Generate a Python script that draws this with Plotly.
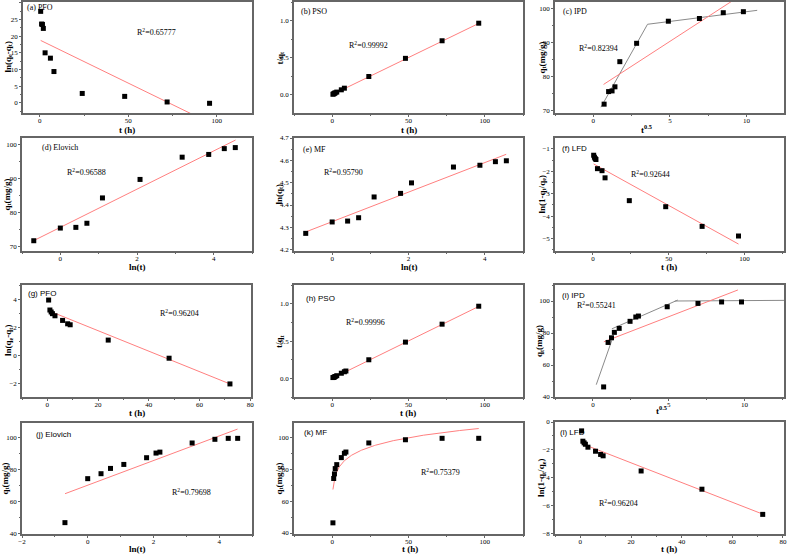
import numpy as np
import plotly.graph_objects as go

# ---------------- data ----------------
# (a) PFO
a_t = [0.5, 1, 1.5, 2, 3, 6, 8, 24, 48, 72, 96]
a_y = [27.4, 23.6, 23.5, 22.3, 15.0, 13.4, 9.4, 2.85, 1.97, 0.3, -0.1]
a_fit_x = [0.5, 96]
a_fit_y = [18.7, -5.9]
# (b) PSO
b_t = [0.5, 1, 1.5, 2, 3, 6, 8, 24, 48, 72, 96]
b_y = [0.007, 0.013, 0.020, 0.026, 0.036, 0.067, 0.089, 0.247, 0.493, 0.731, 0.969]
b_fit_x = [0.5, 96]
b_fit_y = [0.0065, 0.966]
# (c) IPD
c_x = [0.707, 1.0, 1.225, 1.414, 1.732, 2.828, 4.899, 6.928, 8.485, 9.798]
c_q = [71.8, 75.5, 75.7, 76.9, 84.3, 89.7, 96.2, 97.0, 98.7, 99.0]
c_seg_x = [0.5, 3.54, 10.7]
c_seg_y = [70.9, 95.3, 99.4]
c_fit_x = [0.67, 9.8]
c_fit_y = [77.6, 104.3]
# (d) Elovich
d_x = [-0.693, 0, 0.405, 0.693, 1.099, 2.079, 3.178, 3.871, 4.277, 4.564]
d_q = [71.8, 75.5, 75.7, 76.9, 84.3, 89.7, 96.2, 97.0, 98.7, 99.0]
d_fit_x = [-0.7, 4.57]
d_fit_y = [71.8, 101.2]
# (e) MF
e_x = [-0.693, 0, 0.405, 0.693, 1.099, 1.792, 2.079, 3.178, 3.871, 4.277, 4.564]
e_y = [4.273, 4.324, 4.328, 4.343, 4.436, 4.452, 4.499, 4.570, 4.578, 4.594, 4.598]
e_fit_x = [-0.7, 4.56]
e_fit_y = [4.279, 4.627]
# (f) LFD
f_t = [0.5, 1, 1.5, 2, 3, 6, 8, 24, 48, 72, 96]
f_y = [-1.28, -1.37, -1.43, -1.47, -1.88, -1.97, -2.29, -3.31, -3.58, -4.46, -4.89]
f_fit_x = [0.5, 96]
f_fit_y = [-1.67, -5.25]
# (g) PFO
g_t = [0.5, 1, 1.5, 2, 3, 6, 8, 9, 24, 48, 72]
g_y = [3.95, 3.24, 3.10, 2.98, 2.83, 2.50, 2.26, 2.19, 1.10, -0.19, -2.02]
g_fit_x = [0.5, 72]
g_fit_y = [3.19, -2.02]
# (h) PSO
h_t = [0.5, 1, 1.5, 2, 3, 6, 8, 9, 24, 48, 72, 96]
h_y = [0.011, 0.0135, 0.019, 0.025, 0.036, 0.069, 0.089, 0.099, 0.25, 0.487, 0.728, 0.969]
h_fit_x = [0.5, 96]
h_fit_y = [0.005, 0.966]
# (i) IPD
i_x = [0.707, 1.0, 1.225, 1.414, 1.732, 2.449, 2.828, 3.0, 4.899, 6.928, 8.485, 9.798]
i_q = [46.3, 74.1, 77.0, 80.4, 82.9, 87.3, 90.0, 90.6, 96.4, 98.5, 99.4, 99.4]
i_seg1_x = [0.22, 1.25]
i_seg1_y = [47.7, 75.5]
i_seg2_x = [1.25, 5.6]
i_seg2_y = [82.6, 100.6]
i_seg3_x = [5.4, 12.6]
i_seg3_y = [100.0, 100.4]
i_fit_x = [0.72, 9.56]
i_fit_y = [74.5, 106.9]
# (j) Elovich
j_x = [-0.693, 0, 0.405, 0.693, 1.099, 1.792, 2.079, 2.197, 3.178, 3.871, 4.277, 4.564]
j_q = [46.7, 74.2, 77.3, 80.6, 83.1, 87.3, 90.2, 90.8, 96.5, 98.8, 99.4, 99.4]
j_fit_x = [-0.69, 4.56]
j_fit_y = [64.8, 105.2]
# (k) MF
k_t = [0.5, 1, 1.5, 2, 3, 6, 8, 9, 24, 48, 72, 96]
k_q = [46.4, 74.2, 77.1, 80.4, 82.9, 87.3, 90.0, 90.8, 96.5, 98.5, 99.4, 99.4]
k_fit_a = 71.4
k_fit_b = 0.0856
# (l) LFD
l_t = [0.5, 1, 1.5, 2, 3, 6, 8, 9, 24, 48, 72]
l_y = [-0.64, -1.38, -1.50, -1.60, -1.81, -2.10, -2.33, -2.43, -3.52, -4.83, -6.64]
l_fit_x = [0.5, 72]
l_fit_y = [-1.55, -6.62]

k_curve_t = np.linspace(0.5, 96, 200)
k_curve_q = k_fit_a * k_curve_t ** k_fit_b

# ---------------- layout helpers ----------------
W, H = 787, 554
SERIF = "Liberation Serif"
SANS = "Liberation Sans"
RED = "#ff7f7f"
GRAY = "#8a8a8a"
AX = "#666666"

def px(x):
    return x / W

def py(y):
    return 1 - y / H

panels = [
    dict(box=(23, 2, 252, 113), xr=[-9.5, 120], yr=[-3, 30.2], xd=50, yd=5, yf="",
         title="(a) PFO", tf=SERIF, tp=(25, 8), r2="R<sup>2</sup>=0.65777", rp=(135, 32),
         xl="t (h)", xlp=(127, 130), yl="ln(q<sub>e</sub>-q<sub>t</sub>)", ylx=8),
    dict(box=(294, 2, 523, 113), xr=[-25, 125], yr=[-0.247, 1.256], xd=50, yd=0.5, yf=".1f",
         title="(b) PSO", tf=SERIF, tp=(299, 12), r2="R<sup>2</sup>=0.99992", rp=(347, 45),
         xl="t (h)", xlp=(409, 130), yl="t/q<sub>t</sub>", ylx=280),
    dict(box=(555, 2, 784, 113), xr=[-2.5, 12.45], yr=[69.2, 101.85], xd=5, yd=10, yf="",
         title="(c) IPD", tf=SERIF, tp=(561, 12), r2="R<sup>2</sup>=0.82394", rp=(577, 48),
         xl="t<sup>0.5</sup>", xlp=(646, 129), yl="q<sub>t</sub>(mg/g)", ylx=542),
    dict(box=(22, 138, 252, 251), xr=[-1, 5], yr=[68.8, 101.8], xd=2, yd=10, yf="",
         title="(d) Elovich", tf=SERIF, tp=(40, 147), r2="R<sup>2</sup>=0.96588", rp=(65, 172),
         xl="ln(t)", xlp=(137, 267), yl="q<sub>t</sub>(mg/g)", ylx=7),
    dict(box=(294, 138, 523, 251), xr=[-1, 5], yr=[4.194, 4.70], xd=2, yd=0.1, yf=".1f",
         title="(e) MF", tf=SERIF, tp=(301, 149), r2="R<sup>2</sup>=0.95790", rp=(322, 172),
         xl="ln(t)", xlp=(409, 267), yl="ln(q<sub>t</sub>)", ylx=279),
    dict(box=(555, 138, 784, 251), xr=[-25, 126], yr=[-5.56, -0.51], xd=50, yd=1, yf="",
         title="(f) LFD", tf=SANS, tp=(560, 148), r2="R<sup>2</sup>=0.92644", rp=(629, 174),
         xl="t (h)", xlp=(669, 267), yl="ln(1-q<sub>t</sub>/q<sub>e</sub>)", ylx=542),
    dict(box=(22, 285, 251, 397), xr=[-10, 80.3], yr=[-2.95, 5.02], xd=20, yd=2, yf="",
         title="(g) PFO", tf=SANS, tp=(26, 293), r2="R<sup>2</sup>=0.96204", rp=(158, 313),
         xl="t (h)", xlp=(137, 413), yl="ln(q<sub>e</sub>-q<sub>t</sub>)", ylx=8),
    dict(box=(294, 285, 523, 397), xr=[-25, 125], yr=[-0.25, 1.254], xd=50, yd=0.5, yf=".1f",
         title="(h) PSO", tf=SANS, tp=(304, 298), r2="R<sup>2</sup>=0.99996", rp=(344, 322),
         xl="t (h)", xlp=(408, 413), yl="t/q<sub>t</sub>", ylx=279),
    dict(box=(555, 285, 784, 397), xr=[-2.5, 12.6], yr=[40, 110], xd=5, yd=20, yf="",
         title="(i) IPD", tf=SANS, tp=(560, 295), r2="R<sup>2</sup>=0.55241", rp=(575, 305),
         xl="t<sup>0.5</sup>", xlp=(661, 410), yl="q<sub>t</sub>(mg/g)", ylx=539),
    dict(box=(22, 423, 252, 534), xr=[-2, 5], yr=[39.6, 109], xd=2, yd=20, yf="",
         title="(j) Elovich", tf=SANS, tp=(34, 435), r2="R<sup>2</sup>=0.79698", rp=(170, 492),
         xl="ln(t)", xlp=(137, 549), yl="q<sub>t</sub>(mg/g)", ylx=5),
    dict(box=(294, 423, 523, 534), xr=[-25, 125], yr=[39.4, 109], xd=50, yd=20, yf="",
         title="(k) MF", tf=SANS, tp=(302, 432), r2="R<sup>2</sup>=0.75379", rp=(419, 472),
         xl="t (h)", xlp=(410, 549), yl="q<sub>t</sub>(mg/g)", ylx=279),
    dict(box=(555, 422, 784, 534), xr=[-10, 80.4], yr=[-8.05, 0], xd=20, yd=2, yf="",
         title="(l) LFD", tf=SANS, tp=(558, 432), r2="R<sup>2</sup>=0.96204", rp=(597, 503),
         xl="t (h)", xlp=(669, 549), yl="ln(1-q<sub>t</sub>/q<sub>e</sub>)", ylx=541),
]

scatter_data = [
    (a_t, a_y), (b_t, b_y), (c_x, c_q), (d_x, d_q), (e_x, e_y), (f_t, f_y),
    (g_t, g_y), (h_t, h_y), (i_x, i_q), (j_x, j_q), (k_t, k_q), (l_t, l_y),
]
fit_data = [
    (a_fit_x, a_fit_y), (b_fit_x, b_fit_y), (c_fit_x, c_fit_y), (d_fit_x, d_fit_y),
    (e_fit_x, e_fit_y), (f_fit_x, f_fit_y), (g_fit_x, g_fit_y), (h_fit_x, h_fit_y),
    (i_fit_x, i_fit_y), (j_fit_x, j_fit_y), (k_curve_t, k_curve_q), (l_fit_x, l_fit_y),
]
gray_data = {
    2: [(c_seg_x, c_seg_y)],
    8: [(i_seg1_x, i_seg1_y), (i_seg2_x, i_seg2_y), (i_seg3_x, i_seg3_y)],
}

fig = go.Figure()
annotations = []
layout = {}

for idx, p in enumerate(panels):
    n = idx + 1
    xn = "x" if n == 1 else f"x{n}"
    yn = "y" if n == 1 else f"y{n}"
    l, t, r, b = p["box"]

    for gx, gy in gray_data.get(idx, []):
        fig.add_trace(go.Scatter(x=gx, y=gy, mode="lines", line=dict(color=GRAY, width=1),
                                 xaxis=xn, yaxis=yn, showlegend=False, hoverinfo="skip"))
    fx, fy = fit_data[idx]
    fig.add_trace(go.Scatter(x=fx, y=fy, mode="lines", line=dict(color=RED, width=1),
                             xaxis=xn, yaxis=yn, showlegend=False, hoverinfo="skip"))
    sx, sy = scatter_data[idx]
    fig.add_trace(go.Scatter(x=sx, y=sy, mode="markers",
                             marker=dict(symbol="square", size=5, color="black"),
                             xaxis=xn, yaxis=yn, showlegend=False))

    common = dict(showline=True, mirror=True, linecolor=AX, linewidth=1.5,
                  ticks="outside", ticklen=2, tickcolor=AX, tickwidth=1,
                  tickfont=dict(family=SERIF, size=7, color="black"),
                  showgrid=False, zeroline=False, tick0=0, automargin=False)
    layout["xaxis" if n == 1 else f"xaxis{n}"] = dict(
        domain=[px(l), px(r)], anchor=yn, range=p["xr"], dtick=p["xd"],
        ticklabelstandoff=-2,
        minor=dict(ticks="outside", ticklen=1, tickcolor=AX, dtick=p["xd"] / 2, tick0=0),
        **common)
    layout["yaxis" if n == 1 else f"yaxis{n}"] = dict(
        domain=[py(b), py(t)], anchor=xn, range=p["yr"], dtick=p["yd"], tickformat=p["yf"],
        minor=dict(ticks="outside", ticklen=1, tickcolor=AX, dtick=p["yd"] / 2, tick0=0),
        **common)

    annotations.append(dict(text=p["title"], x=px(p["tp"][0]), y=py(p["tp"][1]),
                            xref="paper", yref="paper", xanchor="left", yanchor="middle",
                            showarrow=False, font=dict(family=p["tf"], size=8, color="black")))
    annotations.append(dict(text=p["r2"], x=px(p["rp"][0]), y=py(p["rp"][1]),
                            xref="paper", yref="paper", xanchor="left", yanchor="middle",
                            showarrow=False, font=dict(family=SERIF, size=8, color="black")))
    annotations.append(dict(text="<b>" + p["xl"] + "</b>", x=px(p["xlp"][0]), y=py(p["xlp"][1]),
                            xref="paper", yref="paper", xanchor="center", yanchor="middle",
                            showarrow=False, font=dict(family=SERIF, size=9, color="black")))
    annotations.append(dict(text="<b>" + p["yl"] + "</b>", x=px(p["ylx"]), y=py((t + b) / 2),
                            xref="paper", yref="paper", xanchor="center", yanchor="middle",
                            textangle=-90, showarrow=False,
                            font=dict(family=SERIF, size=9, color="black")))

fig.update_layout(
    template="none",
    width=W, height=H,
    margin=dict(l=0, r=0, t=0, b=0, autoexpand=False),
    paper_bgcolor="white", plot_bgcolor="white",
    annotations=annotations,
    **layout,
)

fig.write_html("out.html", config={"displayModeBar": False},
               post_script="document.body.style.margin='0px';document.body.style.overflow='hidden';")
